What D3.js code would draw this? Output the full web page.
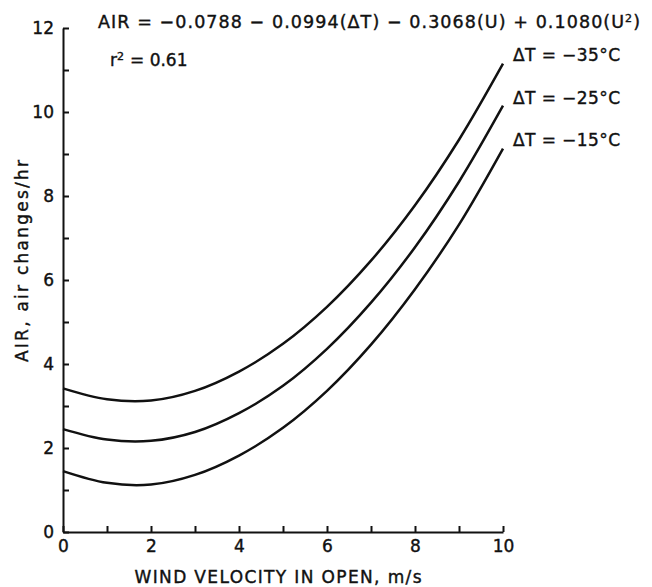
<!DOCTYPE html>
<html>
<head>
<meta charset="utf-8">
<script src="https://cdn.jsdelivr.net/npm/d3@7"></script>
<style>
  body { margin: 0; background: #fff; }
  text { font-family: "DejaVu Sans", sans-serif; fill: #111; stroke: #111; stroke-width: 0.4px; }
</style>
</head>
<body>
<div id="chart"></div>
<script>
// values
var windSpeed = [0, 1, 2, 3, 4, 5, 6, 7, 8, 9, 10];
var air35 = [3.42, 3.16, 3.13, 3.36, 3.82, 4.48, 5.36, 6.46, 7.78, 9.34, 11.15];
var air25 = [2.45, 2.20, 2.17, 2.38, 2.83, 3.48, 4.36, 5.46, 6.78, 8.34, 10.15];
var air15 = [1.45, 1.17, 1.13, 1.36, 1.82, 2.48, 3.36, 4.46, 5.78, 7.32, 9.13];
var seriesLabels = ["ΔT = −35°C", "ΔT = −25°C", "ΔT = −15°C"];
var xTicks = [0, 1, 2, 3, 4, 5, 6, 7, 8, 9, 10];
var yTicks = [0, 1, 2, 3, 4, 5, 6, 7, 8, 9, 10, 11, 12];

var svgWidth = 652;
var svgHeight = 587;

var margin = { top: 28, right: 149, bottom: 55, left: 63 };
var width = svgWidth - margin.left - margin.right;
var height = svgHeight - margin.top - margin.bottom;

var svg = d3.select("#chart")
  .append("svg")
  .attr("width", svgWidth)
  .attr("height", svgHeight);

var chartGroup = svg.append("g")
  .attr("transform", `translate(${margin.left}, ${margin.top})`);

var x = d3.scaleLinear().domain([0, 10]).range([0, width]);
var y = d3.scaleLinear().domain([0, 12]).range([height, 0]);

// label every other tick, odd ones are bare marks
var fmt = d => (d % 2 === 0 ? d : "");

var xAxis = chartGroup.append("g")
  .attr("transform", `translate(0, ${height})`)
  .call(d3.axisBottom(x).tickValues(xTicks).tickFormat(fmt)
    .tickSize(-6).tickSizeOuter(0).tickPadding(8));

var yAxis = chartGroup.append("g")
  .call(d3.axisLeft(y).tickValues(yTicks).tickFormat(fmt)
    .tickSize(-6).tickSizeOuter(0).tickPadding(9));

[xAxis, yAxis].forEach(function(g) {
  g.select(".domain").attr("stroke", "#111").attr("stroke-width", 2);
  g.selectAll(".tick line").attr("stroke", "#111").attr("stroke-width", 2);
  g.selectAll(".tick text")
    .attr("font-size", "17px")
    .attr("fill", "#111")
    .style("font-family", "DejaVu Sans, sans-serif");
});

// curves
var line = d3.line()
  .x((d, i) => x(windSpeed[i]))
  .y(d => y(d))
  .curve(d3.curveCatmullRom);

[air35, air25, air15].forEach(function(s, i) {
  chartGroup.append("path")
    .datum(s)
    .attr("d", line)
    .attr("fill", "none")
    .attr("stroke", "#111")
    .attr("stroke-width", 2.5);

  chartGroup.append("text")
    .attr("x", x(10) + 10)
    .attr("y", [27, 70, 112][i])
    .attr("dy", "0.35em")
    .attr("font-size", "17px")
    .attr("textLength", 107)
    .attr("lengthAdjust", "spacing")
    .text(seriesLabels[i]);
});

// equation
var eq = svg.append("text")
  .attr("x", 98)
  .attr("y", 22)
  .attr("dy", "0.35em")
  .attr("font-size", "17.5px")
  .attr("textLength", 542)
  .attr("lengthAdjust", "spacing");
eq.append("tspan").text("AIR = −0.0788 − 0.0994(ΔT) − 0.3068(U) + 0.1080(U");
eq.append("tspan").attr("baseline-shift", "super").attr("font-size", "11px").text("2");
eq.append("tspan").text(")");

var r2 = svg.append("text")
  .attr("x", 110)
  .attr("y", 60)
  .attr("dy", "0.35em")
  .attr("font-size", "17px");
r2.append("tspan").text("r");
r2.append("tspan").attr("baseline-shift", "super").attr("font-size", "11px").text("2");
r2.append("tspan").attr("dx", 6).text("= 0.61");

// Y-Axis Label
svg.append("text")
  .attr("transform", "translate(22, 261) rotate(-90)")
  .attr("text-anchor", "middle")
  .attr("dy", "0.35em")
  .attr("font-size", "17px")
  .attr("textLength", 202)
  .attr("lengthAdjust", "spacing")
  .text("AIR, air changes/hr");

// X-Axis Label
svg.append("text")
  .attr("x", 278)
  .attr("y", 577)
  .attr("text-anchor", "middle")
  .attr("dy", "0.35em")
  .attr("font-size", "17px")
  .attr("textLength", 287)
  .attr("lengthAdjust", "spacing")
  .text("WIND VELOCITY IN OPEN, m/s");
</script>
</body>
</html>
